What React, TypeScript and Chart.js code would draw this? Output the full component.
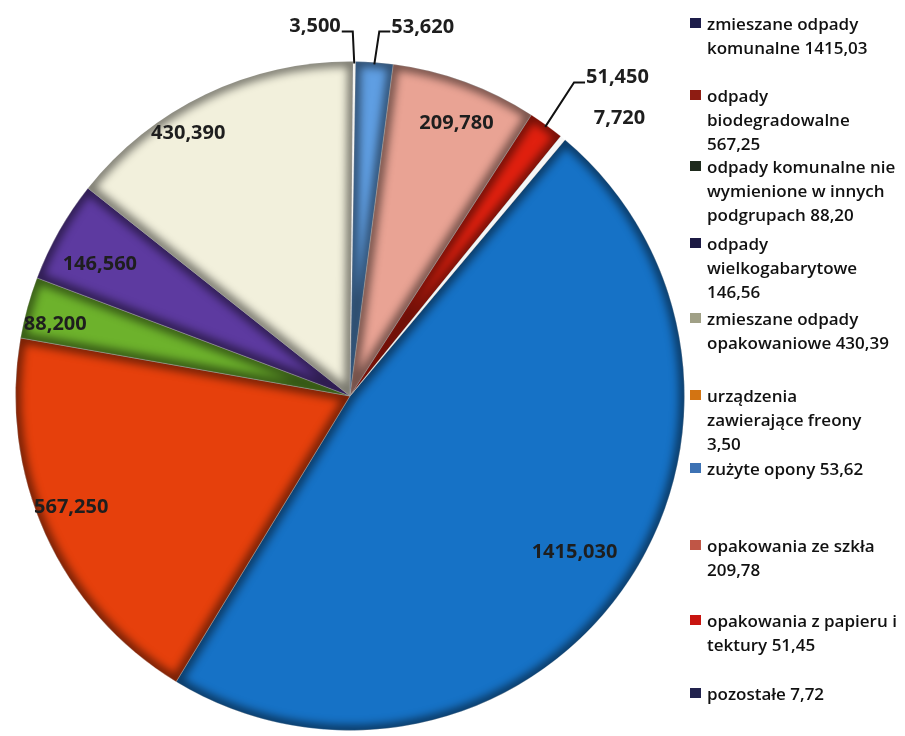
import React, { useEffect, useRef } from "react";
import { Chart, registerables } from "chart.js";

Chart.register(...registerables);

// ---------- data ----------
const categories = [
  "zmieszane odpady\nkomunalne",
  "odpady\nbiodegradowalne\n",
  "odpady komunalne nie\nwymienione w innych\npodgrupach",
  "odpady\nwielkogabarytowe\n",
  "zmieszane odpady\nopakowaniowe",
  "urządzenia\nzawierające freony\n",
  "zużyte opony",
  "opakowania ze szkła\n",
  "opakowania z papieru i\ntektury",
  "pozostałe",
];
const values = [1415.03, 567.25, 88.2, 146.56, 430.39, 3.5, 53.62, 209.78, 51.45, 7.72];

// ---------- styles ----------
const sliceColors = [
  "#1672c6",
  "#e6400c",
  "#6db22c",
  "#5d3aa0",
  "#f2f0dc",
  "#f3f1ea",
  "#5f9ee2",
  "#e9a394",
  "#e0200f",
  "#f6f6f6",
];
const legendSwatchColors = [
  "#1d1d4a",
  "#8e1c12",
  "#1e2a1c",
  "#1c1a44",
  "#a0a086",
  "#d37412",
  "#3d72b4",
  "#c05646",
  "#c81410",
  "#22234e",
];
const legendY = [25, 97, 168, 245, 320, 397, 470, 547, 622, 695];
const legendLineH = 24.3;
// label layout: radial fraction, angle delta (deg), leader side (0 none, -1 text left of elbow, 1 text right)
const labelR = [0.818, 0.898, 0.907, 0.845, 0.922, 1.09, 1.093, 0.875, 1.152, 1.157];
const labelDA = [-0.8, 2.5, -1.6, -1.8, -6.1, -0.3, 0.4, 1.2, -0.4, 4.6];
const labelLeader = [0, 0, 0, 0, 0, -1, 1, 0, 1, 0];

const fmtLabel = (v: number) => v.toFixed(3).replace(".", ",");
const fmtLegend = (v: number) => v.toFixed(2).replace(".", ",");

const bevelPlugin = {
  id: "bevel",
  afterDatasetsDraw(chart: any) {
    const ctx = chart.ctx;
    const meta = chart.getDatasetMeta(0);
    meta.data.forEach((arc: any) => {
      const p = arc.getProps(["x", "y", "startAngle", "endAngle", "outerRadius"], true);
      if (p.endAngle - p.startAngle < 0.03) return;
      ctx.save();
      ctx.beginPath();
      ctx.moveTo(p.x, p.y);
      ctx.arc(p.x, p.y, p.outerRadius, p.startAngle, p.endAngle);
      ctx.closePath();
      ctx.clip();
      ctx.filter = "blur(4px)";
      ctx.lineWidth = 11;
      ctx.strokeStyle = "rgba(0,0,0,0.5)";
      ctx.beginPath();
      ctx.moveTo(p.x, p.y);
      ctx.arc(p.x, p.y, p.outerRadius, p.startAngle, p.endAngle);
      ctx.closePath();
      ctx.stroke();
      ctx.restore();
    });
  },
};

const labelPlugin = {
  id: "labels",
  afterDatasetsDraw(chart: any) {
    const ctx = chart.ctx;
    const meta = chart.getDatasetMeta(0);
    ctx.save();
    ctx.font = 'bold 20px "Open Sans"';
    ctx.fillStyle = "#1e1e1e";
    meta.data.forEach((arc: any, i: number) => {
      const p = arc.getProps(["x", "y", "startAngle", "endAngle", "outerRadius"], true);
      const mid = (p.startAngle + p.endAngle) / 2;
      const a = mid + (labelDA[i] * Math.PI) / 180;
      const lx = p.x + Math.cos(a) * p.outerRadius * labelR[i];
      const ly = p.y + Math.sin(a) * p.outerRadius * labelR[i];
      const txt = fmtLabel(values[i]);
      if (labelLeader[i] !== 0) {
        const ex = p.x + Math.cos(mid) * (p.outerRadius - 2);
        const ey = p.y + Math.sin(mid) * (p.outerRadius - 2);
        const side = labelLeader[i];
        ctx.strokeStyle = "#111";
        ctx.lineWidth = 2;
        ctx.beginPath();
        ctx.moveTo(ex, ey);
        ctx.lineTo(lx, ly);
        ctx.lineTo(lx + side * 11, ly);
        ctx.stroke();
        ctx.textBaseline = "alphabetic";
        ctx.textAlign = side < 0 ? "right" : "left";
        ctx.fillText(txt, lx + side * 12, ly + 1);
      } else {
        ctx.textBaseline = "middle";
        ctx.textAlign = "center";
        ctx.fillText(txt, lx, ly);
      }
    });
    ctx.restore();
  },
};

const legendPlugin = {
  id: "sideLegend",
  afterDraw(chart: any) {
    const ctx = chart.ctx;
    ctx.save();
    ctx.font = '600 17px "Open Sans"';
    ctx.textBaseline = "middle";
    ctx.textAlign = "left";
    categories.forEach((name, i) => {
      const full = name.endsWith("\n") ? name + fmtLegend(values[i]) : name + " " + fmtLegend(values[i]);
      const lines = full.split("\n");
      const y0 = legendY[i];
      ctx.fillStyle = legendSwatchColors[i];
      ctx.fillRect(690, y0 - 7, 11, 10);
      ctx.fillStyle = "#111";
      lines.forEach((ln, k) => {
        ctx.fillText(ln, 707, y0 + k * legendLineH);
      });
    });
    ctx.restore();
  },
};

export default function App() {
  const ref = useRef<HTMLCanvasElement | null>(null);
  useEffect(() => {
    if (!ref.current) return;
    const chart = new Chart(ref.current, {
      type: "pie",
      data: {
        labels: categories.map((c) => c.replace(/\n/g, " ").trim()),
        datasets: [
          {
            data: values,
            backgroundColor: sliceColors,
            borderColor: "rgba(255,255,255,0.55)",
            borderWidth: 1,
          },
        ],
      },
      options: {
        responsive: false,
        animation: false,
        rotation: 40,
        layout: { padding: { left: 15, right: 220, top: 61, bottom: 5 } },
        plugins: {
          legend: { display: false },
          tooltip: { enabled: false },
          title: { display: false },
        },
      },
      plugins: [bevelPlugin, labelPlugin, legendPlugin],
    });
    return () => chart.destroy();
  }, []);
  return (
    <div style={{ position: "absolute", left: 0, top: 0, width: 905, height: 736, background: "#fff" }}>
      <canvas ref={ref} width={905} height={736} style={{ width: 905, height: 736 }} />
    </div>
  );
}
